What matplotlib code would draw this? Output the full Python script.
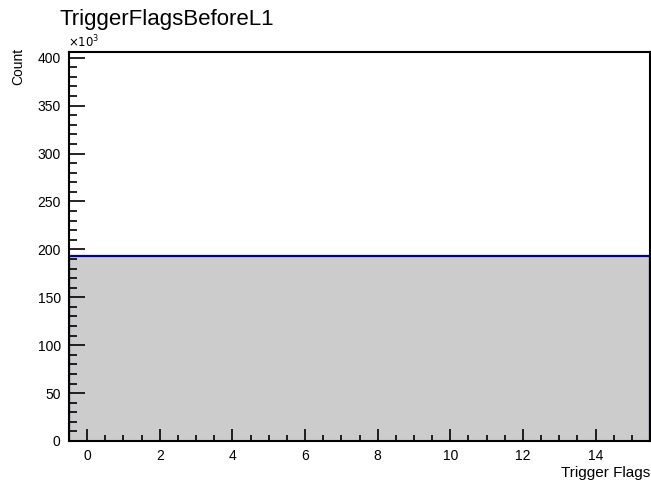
import numpy as np
import matplotlib.pyplot as plt
from matplotlib.ticker import MultipleLocator, FuncFormatter

# histogram data
bin_edges = np.arange(-0.5, 16.5, 1.0)
counts = [193000] * 16

plt.rcParams["font.family"] = ["Liberation Sans", "DejaVu Sans"]

fig = plt.figure(figsize=(6.51, 4.82), dpi=100)
ax = fig.add_axes([69 / 651, 1 - 441 / 482, 581 / 651, 389 / 482])

ax.stairs(counts, bin_edges, fill=True, color="#cccccc", linewidth=0)
ax.stairs(counts, bin_edges, color="#000099", linewidth=1.6)

ax.set_xlim(-0.5, 15.5)
ax.set_ylim(0, 406000)

ax.xaxis.set_major_locator(MultipleLocator(2))
ax.xaxis.set_minor_locator(MultipleLocator(0.5))
ax.yaxis.set_major_locator(MultipleLocator(50000))
ax.yaxis.set_minor_locator(MultipleLocator(10000))
ax.yaxis.set_major_formatter(FuncFormatter(lambda v, p: f"{v / 1000:.0f}"))

# ROOT style ticks, inside
ax.tick_params(which="both", direction="in", top=False, right=False,
               labelsize=10, width=1.2)
ax.tick_params(axis="x", which="major", length=8.6, pad=6)
ax.tick_params(axis="x", which="minor", length=4.3)
ax.tick_params(axis="y", which="major", length=11.5, pad=6)
ax.tick_params(axis="y", which="minor", length=5.8)

for s in ax.spines.values():
    s.set_linewidth(1.5)

fig.text(60 / 651, 1 - 19 / 482, "TriggerFlagsBeforeL1", fontsize=16,
         va="center", ha="left")
fig.text(68 / 651, 1 - 42 / 482, r"$\times10^{3}$", fontsize=8.5,
         va="center", ha="left")
fig.text(18 / 651, 1 - 48 / 482, "Count", fontsize=10, rotation=90,
         va="top", ha="center")
fig.text(650 / 651, 1 - 473 / 482, "Trigger Flags", fontsize=11,
         va="center", ha="right")

fig.savefig("out.png", dpi=100)
